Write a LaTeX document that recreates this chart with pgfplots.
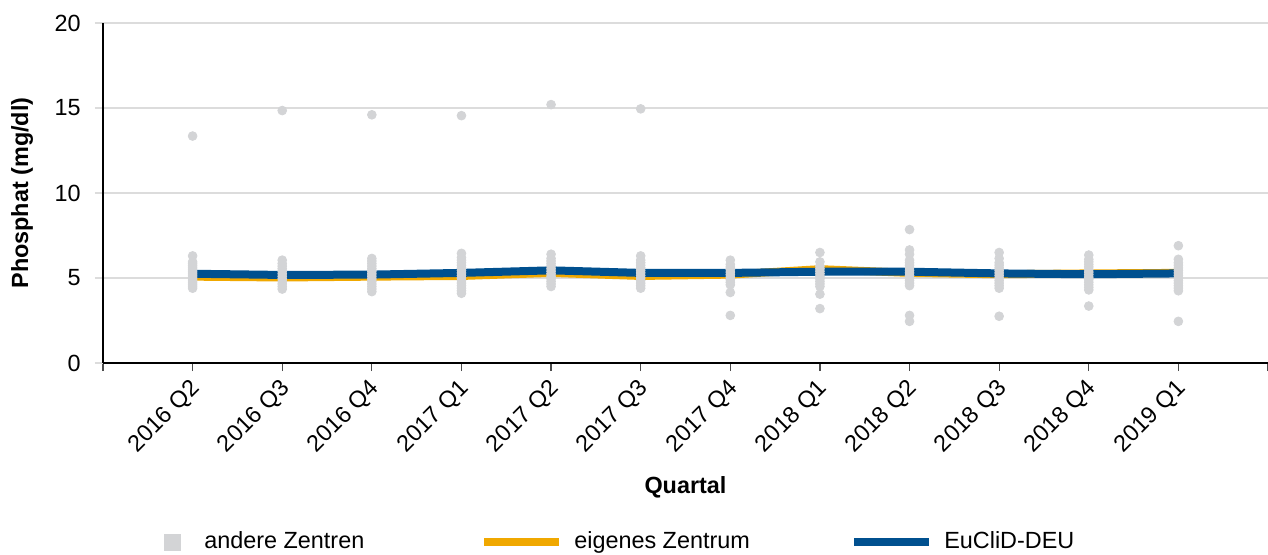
\documentclass[border=0pt]{standalone}
\usepackage{fontspec}
\setmainfont{Liberation Sans}
\usepackage{pgfplots}
\pgfplotsset{compat=1.18}
\definecolor{dotgray}{HTML}{D3D4D6}
\definecolor{gridgray}{HTML}{DCDCDC}
\definecolor{ownorange}{HTML}{F0A800}
\definecolor{eublue}{HTML}{00508F}

\begin{document}
\fontsize{11.7bp}{14bp}\selectfont
\begin{tikzpicture}
\begin{axis}[
  name=ax,
  scale only axis, width=582.5bp, height=170bp,
  xmin=0, xmax=13, ymin=0, ymax=20,
  axis lines*=left,
  axis line style={-, black, line width=1bp},
  xtick={0,...,13},
  xticklabels={,2016 Q2,2016 Q3,2016 Q4,2017 Q1,2017 Q2,2017 Q3,2017 Q4,2018 Q1,2018 Q2,2018 Q3,2018 Q4,2019 Q1,},
  ytick={0,5,10,15,20},
  ymajorgrids, grid style={gridgray, line width=1bp},
  tick align=outside, major tick length=4bp,
  x tick style={black!70, line width=0.6bp},
  y tick style={gridgray, line width=1bp},
  /pgf/number format/assume math mode=true,
  xticklabel style={rotate=45, anchor=east, inner sep=2bp, yshift=-6.5bp, xshift=-1.5bp},
  yticklabel style={inner sep=2bp, xshift=-5bp},
  xlabel={\bfseries Quartal},
  ylabel={\bfseries Phosphat (mg/dl)},
  x label style={at={(axis description cs:0.5,-0.3647)}, anchor=center},
  y label style={at={(axis description cs:-0.0695,0.5)}, anchor=center},
  legend columns=3,
  legend style={at={(axis description cs:0.0128,-0.5265)}, anchor=west,
    draw=none, fill=none, inner sep=0pt, nodes={inner sep=0pt},
    /tikz/every odd column/.append style={column sep=5.5bp},
    /tikz/every even column/.append style={column sep=5bp}},
]
\addlegendimage{legend image code/.code={
  \path[draw=none] (0bp,0bp) -- (37.5bp,0bp);
  \fill[dotgray, draw=none] (23bp,-4.25bp) rectangle (31.5bp,4.25bp);}}
\addlegendentry{\makebox[133bp][l]{andere Zentren}}
\addlegendimage{legend image code/.code={
  \draw[ownorange, line width=4bp] (0bp,0bp) -- (37.5bp,0bp);}}
\addlegendentry{\makebox[133bp][l]{eigenes Zentrum}}
\addlegendimage{legend image code/.code={
  \draw[eublue, line width=4bp] (0bp,0bp) -- (37.5bp,0bp);}}
\addlegendentry{\makebox[133bp][l]{EuCliD-DEU}}

% eigenes Zentrum
\addplot[ownorange, line width=4bp, line join=round, forget plot] coordinates {
(1,5.08) (2,5.03) (3,5.08) (4,5.12) (5,5.3) (6,5.12)
(7,5.2) (8,5.52) (9,5.3) (10,5.22) (11,5.27) (12,5.3)};
% EuCliD-DEU
\addplot[eublue, line width=4bp, line join=round, forget plot] coordinates {
(1,5.25) (2,5.18) (3,5.2) (4,5.3) (5,5.45) (6,5.3)
(7,5.3) (8,5.37) (9,5.37) (10,5.27) (11,5.22) (12,5.27)};
% andere Zentren
\addplot[only marks, mark=*, mark size=2.2bp, dotgray, mark options={draw=none, fill=dotgray}, forget plot] table {
x y
1 13.35
1 6.3
1 4.4
1 4.52
1 4.64
1 4.76
1 4.88
1 5.0
1 5.12
1 5.24
1 5.36
1 5.48
1 5.6
1 5.72
1 5.84
1 5.95
2 14.85
2 4.35
2 4.5
2 4.65
2 4.8
2 4.95
2 5.1
2 5.25
2 5.4
2 5.55
2 5.7
2 5.85
2 6.05
3 14.6
3 4.2
3 4.35
3 4.5
3 4.65
3 4.8
3 4.95
3 5.1
3 5.25
3 5.4
3 5.55
3 5.7
3 5.85
3 6.0
3 6.15
4 14.55
4 4.1
4 4.25
4 4.4
4 4.55
4 4.7
4 4.85
4 5.0
4 5.15
4 5.3
4 5.45
4 5.6
4 5.75
4 5.9
4 6.05
4 6.2
4 6.45
5 15.2
5 4.5
5 4.65
5 4.8
5 4.95
5 5.1
5 5.25
5 5.4
5 5.55
5 5.7
5 5.85
5 6.0
5 6.15
5 6.4
6 14.95
6 4.4
6 4.55
6 4.7
6 4.85
6 5.0
6 5.15
6 5.3
6 5.45
6 5.6
6 5.75
6 5.9
6 6.05
6 6.3
7 2.8
7 4.15
7 4.6
7 4.75
7 4.9
7 5.05
7 5.2
7 5.35
7 5.5
7 5.65
7 5.8
7 6.05
8 3.2
8 4.05
8 4.5
8 4.65
8 4.8
8 4.95
8 5.1
8 5.25
8 5.4
8 5.55
8 5.7
8 5.95
8 6.5
9 2.45
9 2.8
9 4.55
9 4.7
9 4.85
9 5.0
9 5.15
9 5.3
9 5.45
9 5.6
9 5.75
9 5.9
9 6.05
9 6.4
9 6.65
9 7.85
10 2.75
10 4.4
10 4.55
10 4.7
10 4.85
10 5.0
10 5.15
10 5.3
10 5.45
10 5.6
10 5.75
10 5.9
10 6.15
10 6.5
11 3.35
11 4.3
11 4.45
11 4.6
11 4.75
11 4.9
11 5.05
11 5.2
11 5.35
11 5.5
11 5.65
11 5.8
11 5.95
11 6.1
11 6.35
12 2.45
12 4.25
12 4.4
12 4.55
12 4.7
12 4.85
12 5.0
12 5.15
12 5.3
12 5.45
12 5.6
12 5.75
12 5.9
12 6.1
12 6.9
};
\end{axis}
\pgfresetboundingbox
\path ([shift={(-51.5bp,-96bp)}]ax.south west) rectangle ([yshift=11.5bp]ax.north east);
\end{tikzpicture}
\end{document}
